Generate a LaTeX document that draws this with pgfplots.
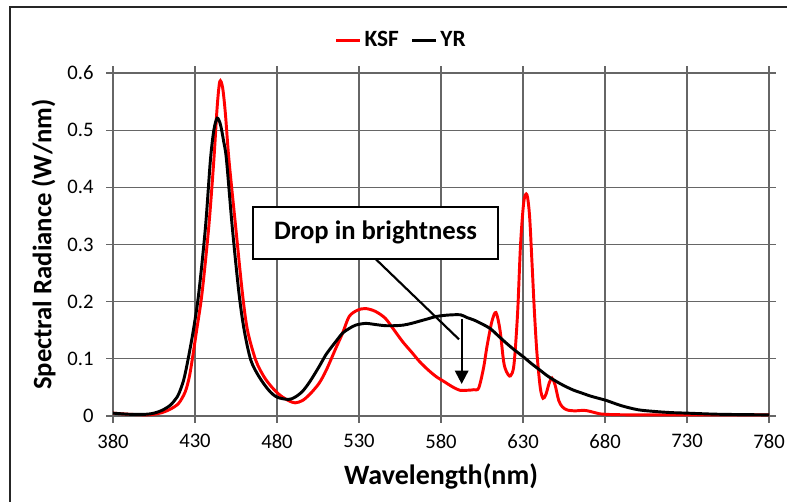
\documentclass[border=0pt]{standalone}
\usepackage{pgfplots}
\pgfplotsset{compat=1.18}
\usepackage{fontspec}
\setmainfont{Carlito}
\usetikzlibrary{arrows.meta}
\begin{document}
\begin{tikzpicture}
\path[use as bounding box] (-84.75pt,-64.5pt) rectangle (505.5pt,312pt);
\draw[line width=1.4pt, black!85] (-77.25pt,-120pt) -- (-77.25pt,306.75pt) -- (560pt,306.75pt);
\begin{axis}[
  at={(0,0)}, anchor=south west,
  scale only axis, width=492pt, height=257.25pt,
  xmin=380, xmax=780, ymin=0, ymax=0.6,
  xtick={380,430,...,780}, ytick={0,0.1,...,0.6},
  yticklabels={0,0.1,0.2,0.3,0.4,0.5,0.6},
  xticklabel style={font=\fontsize{15.5}{17}\selectfont, yshift=-5pt},
  yticklabel style={font=\fontsize{15.5}{17}\selectfont, xshift=-6pt},
  /pgf/number format/assume math mode=true,
  /pgf/number format/1000 sep={},
  grid=major,
  major grid style={black!60, line width=0.9pt},
  axis line style={black!60, line width=0.9pt},
  tick style={black!60, line width=0.9pt},
  tick align=outside, major tick length=5pt,
  xlabel={\bfseries Wavelength(nm)},
  ylabel={\bfseries Spectral Radiance (W/nm)},
  xlabel style={font=\fontsize{21}{23}\selectfont, yshift=-4.5pt},
  ylabel style={font=\fontsize{20}{22}\selectfont, yshift=2pt},
  legend columns=2,
  legend style={draw=none, fill=none, at={(0.44,1.096)}, anchor=center,
    font=\fontsize{17.5}{19}\selectfont\bfseries,
    /tikz/every even column/.append style={column sep=7pt}},
  legend image code/.code={\draw[#1] (0pt,0pt) -- (18pt,0pt);},
]
\addplot[red, line width=2.2pt, smooth, tension=0.5] coordinates {
(380,0.005)(390,0.003)(400,0.002)(405,0.003)(410,0.006)(415,0.012)(420,0.022)
(424,0.042)(426.5,0.068)(428.5,0.102)(431,0.15)(434.3,0.215)(438.4,0.331)(441.5,0.448)(443.5,0.54)
(445.1,0.585)(446.8,0.575)(448.5,0.53)(450.7,0.448)(454.8,0.331)(458.9,0.215)
(462,0.15)(467,0.098)(472,0.069)(477,0.05)(482,0.036)(487,0.027)(491,0.023)
(495.5,0.027)(500,0.038)(505.6,0.057)(510,0.08)(515.8,0.118)(520,0.145)(524,0.174)
(529,0.185)(534,0.188)(540,0.183)(546,0.171)(551,0.152)(556.6,0.13)(562,0.112)
(567,0.095)(572,0.081)(577,0.069)(582,0.06)(587,0.051)(591.5,0.045)(596,0.045)
(600,0.046)(603,0.049)(606,0.085)(608,0.121)(611,0.165)(613.5,0.181)(616,0.150)
(618.2,0.095)(620,0.077)(622.3,0.07)(624.5,0.09)(626.7,0.18)(628.5,0.30)(630.5,0.375)
(632.4,0.387)(634,0.35)(635.5,0.267)(637,0.18)(638.5,0.11)(640.5,0.05)(642.2,0.031)
(644,0.038)(646,0.058)(647.7,0.066)(649.5,0.055)(651.8,0.027)(654,0.016)(657,0.0105)
(662,0.009)(667,0.01)(671,0.008)(675,0.005)(680,0.003)(700,0.002)(780,0.002)
};
\addlegendentry{KSF}
\addplot[black, line width=2.2pt, smooth, tension=0.5] coordinates {
(380,0.005)(390,0.003)(400,0.003)(405,0.005)(410,0.010)(415,0.019)(418,0.029)(420,0.038)
(423,0.062)(425.5,0.095)(429,0.15)(432.3,0.215)(436.4,0.331)(439.4,0.448)(441.5,0.50)(443.5,0.521)
(445.5,0.51)(447.5,0.48)(449.2,0.448)(452.7,0.331)(456.8,0.215)(460,0.15)(464,0.098)
(469,0.069)(475,0.045)(480,0.033)(487,0.029)(491,0.033)(495.5,0.043)(500,0.06)
(505.6,0.086)(510,0.108)(515.8,0.13)(520,0.145)(524,0.153)(528,0.159)(534,0.162)
(540,0.160)(546,0.158)(552,0.158)(557,0.159)(562,0.162)(567,0.166)(572,0.170)
(577,0.174)(582,0.176)(587,0.177)(592,0.177)(596,0.172)(600,0.168)(605,0.161)
(610,0.153)(615,0.14)(620,0.127)(625,0.115)(630,0.104)(635,0.092)(640,0.081)
(645,0.07)(650,0.061)(655,0.053)(661,0.045)(666,0.040)(671,0.035)(676,0.031)
(681,0.027)(690,0.018)(700,0.011)(710,0.008)(720,0.006)(730,0.005)(750,0.003)(780,0.002)
};
\addlegendentry{YR}
\draw[black, line width=1.6pt] (axis cs:540,0.275) -- (axis cs:591,0.134);
\draw[black, line width=1.6pt, -{Triangle[length=10pt,width=10pt]}] (axis cs:592.6,0.170) -- (axis cs:592.6,0.056);
\draw[black, line width=1.2pt, fill=white] (axis cs:465.4,0.275) rectangle (axis cs:614.8,0.366);
\node[font=\fontsize{20}{22}\selectfont\bfseries] at (axis cs:540.1,0.3205) {Drop in brightness};
\end{axis}
\end{tikzpicture}
\end{document}
